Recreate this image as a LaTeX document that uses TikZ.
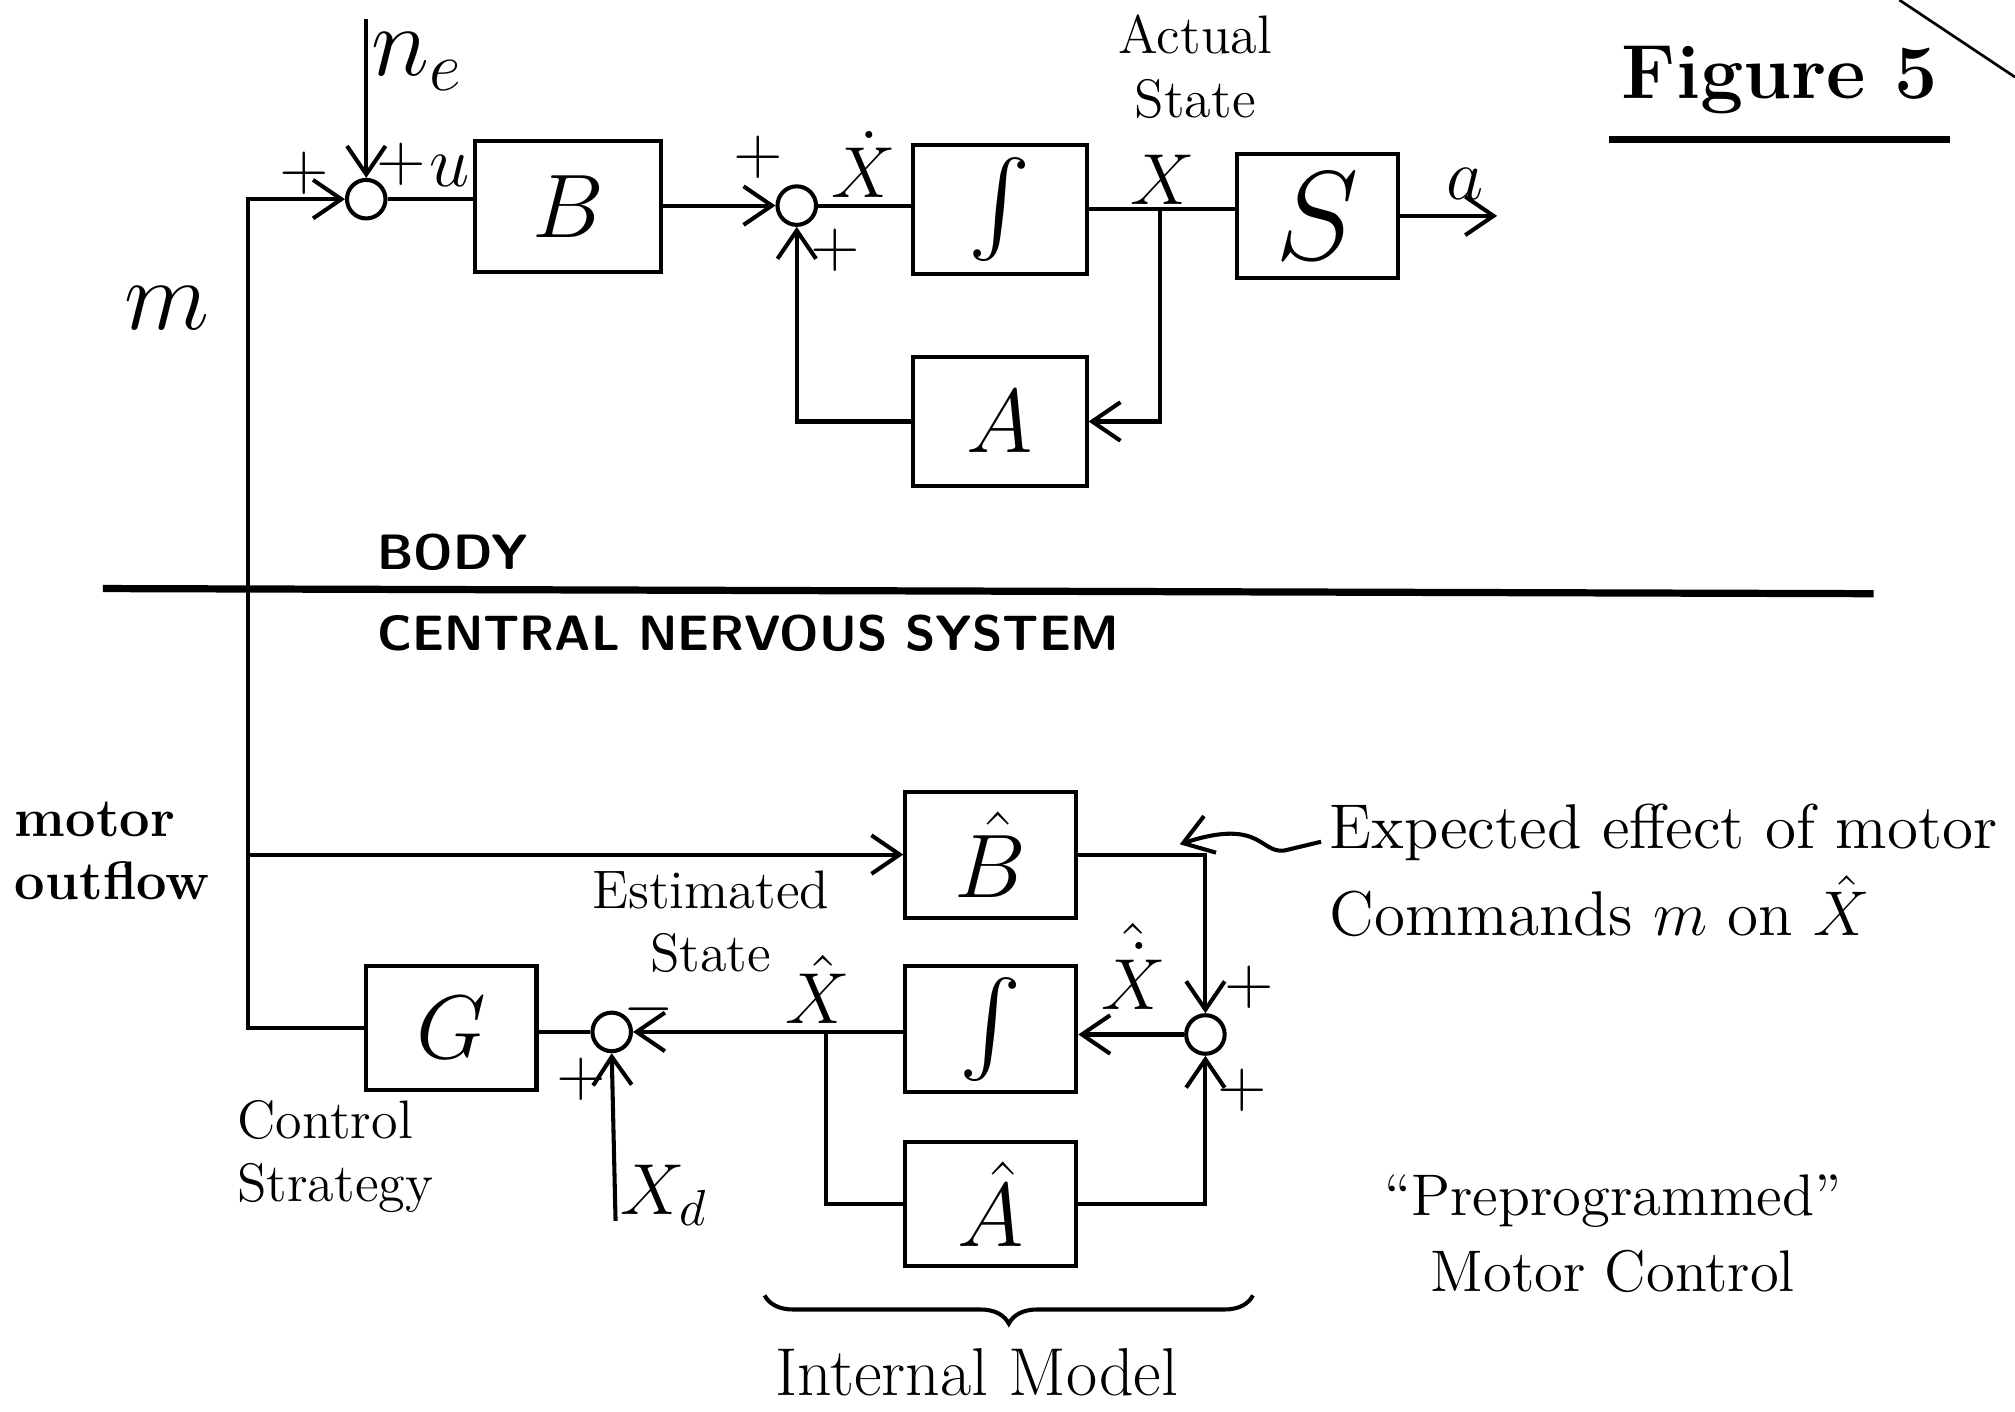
\RequirePackage{fix-cm}
\documentclass[tikz,border=0pt]{standalone}
\usepackage{fontspec,exscale}
\usetikzlibrary{arrows.meta,positioning,decorations.pathreplacing}

\begin{document}
\begin{tikzpicture}[x=1cm,y=-1cm,line width=.9pt,
  >={Straight Barb[length=2.2mm,width=3mm]},
  blk/.style={draw,minimum width=1.35cm,minimum height=1cm,inner sep=0pt,font=\fontsize{20}{24}\selectfont},
  sumj/.style={draw,circle,minimum size=.3cm,inner sep=0pt},
  sgn/.style={font=\Large,inner sep=1pt},
  sig/.style={font=\fontsize{16}{19}\selectfont,inner sep=1pt},
  note/.style={font=\large,align=left,inner sep=0pt},
  caps/.style={font=\fontsize{11}{13}\selectfont\bfseries\sffamily,anchor=west,inner sep=0pt}]
\useasboundingbox (0,0) rectangle (15.68,10.98);
\node[sumj] (sumU) at (2.85,1.55) {};
\node[blk,minimum width=1.45cm,minimum height=1.02cm] (blkB) at (4.42,1.61) {$B$};
\node[sumj] (sumX) at (6.20,1.60) {};
\node[blk] (blkI) at (7.78,1.63) {$\int$};
\node[blk,minimum width=1.25cm,minimum height=.96cm,font=\fontsize{28}{32}\selectfont] (blkS) at (10.25,1.68) {$S$};
\node[blk,minimum height=1.01cm] (blkA) at (7.78,3.28) {$A$};
\node[blk,minimum width=1.33cm,minimum height=.98cm] (blkBh) at (7.71,6.65) {$\hat{B}$};
\node[blk,minimum width=1.33cm,minimum height=.98cm] (blkIh) at (7.71,8.01) {$\int$};
\node[blk,minimum width=1.33cm,minimum height=.97cm] (blkAh) at (7.71,9.37) {$\hat{A}$};
\node[blk,minimum width=1.33cm,minimum height=.96cm] (blkG) at (3.51,8.00) {$G$};
\node[sumj] (sumE) at (4.76,8.03) {};
\node[sumj] (sumXh) at (9.38,8.05) {};
\coordinate (ne) at (2.85,0.15);
\coordinate (mtop) at (1.93,1.55);
\coordinate (jX) at (9.03,1.63);
\coordinate (aout) at (11.65,1.68);
\coordinate (jXh) at (6.43,8.03);
\coordinate (xd) at (4.79,9.50);
\coordinate (tail) at (10.28,6.55);
\coordinate (curl) at (9.18,6.57);
\coordinate (imL) at (5.95,10.08);
\coordinate (imR) at (9.75,10.08);
\coordinate (divL) at (0.80,4.58);
\coordinate (divR) at (14.58,4.62);
\coordinate (pgA) at (14.78,0);
\coordinate (pgB) at (15.68,0.60);
\draw[->] (ne) -- (sumU.north);
\draw[->] (blkG.west) -| (mtop) -- (sumU.west);
\draw (sumU.east) -- (sumU.east -| blkB.west);
\draw[->] (blkB.east |- sumX) -- (sumX.west);
\draw (sumX.east) -- (sumX.east -| blkI.west);
\draw (blkI.east) -- (blkI.east -| blkS.west);
\draw[->] (jX) |- (blkA.east);
\draw[->] (blkA.west) -| (sumX.south);
\draw[->] (blkS.east) -- (aout);
\draw[->] (blkBh.west -| mtop) -- (blkBh.west);
\draw[->] (blkBh.east) -| (sumXh.north);
\draw[->] (blkAh.east) -| (sumXh.south);
\draw[->] (sumXh.west) -- (sumXh.west -| blkIh.east);
\draw[->] (blkIh.west |- sumE) -- (sumE.east);
\draw (sumE.west) -- (sumE.west -| blkG.east);
\draw (jXh) |- (blkAh.west);
\draw[->] (xd) -- (sumE.south);
\draw[->] (tail) -- ++(-0.25,0.06) .. controls (9.80,6.68) and (9.85,6.35) .. (curl);
\draw[decorate,decoration={brace,mirror,amplitude=.22cm}] (imL) -- (imR);
\draw[line width=1.6pt] (divL) -- (divR);
\draw[line width=.6pt] (pgA) -- (pgB);
\node[font=\fontsize{22}{26}\selectfont,inner sep=1pt] (lne) at (3.25,0.48) {$n_e$};
\node[sgn] (pU1) at (2.37,1.35) {$+$};
\node[sgn] (pU2) at (3.12,1.28) {$+$};
\node[sig] (lu) at (3.50,1.33) {$u$};
\node[sgn] (pX1) at (5.90,1.22) {$+$};
\node[sig] (lxdot) at (6.72,1.28) {$\dot{X}$};
\node[sgn] (pX2) at (6.50,1.95) {$+$};
\node[sig] (lx) at (9.05,1.40) {$X$};
\node[sig] (la) at (11.40,1.43) {$a$};
\node[note,align=center] (actual) at (9.30,0.52) {Actual\\State};
\node[font=\fontsize{17}{20}\selectfont\bfseries,inner xsep=.08cm] (fig) at (13.85,0.62) {Figure 5};
\draw[line width=1.4pt] ([yshift=-2pt]fig.south west) -- ([yshift=-2pt]fig.south east);
\node[font=\fontsize{22}{26}\selectfont] (lm) at (1.30,2.40) {$m$};
\node[caps] (body) at (2.92,4.30) {BODY};
\node[caps] (cns) at (2.92,4.93) {CENTRAL NERVOUS SYSTEM};
\node[note,font=\large\bfseries,anchor=west] (motor) at (0.10,6.62) {motor\\outflow};
\node[note,align=center] (est) at (5.53,7.17) {Estimated\\State};
\node[sig] (lxh) at (6.36,7.70) {$\hat{X}$};
\node[sig] (lxhdot) at (8.82,7.52) {$\hat{\dot{X}}$};
\node[sgn] (pH1) at (9.72,7.68) {$+$};
\node[sgn] (pH2) at (9.67,8.48) {$+$};
\node[sgn] (mE) at (5.05,7.85) {$-$};
\node[sgn] (pE) at (4.52,8.40) {$+$};
\node[sig] (lxdes) at (5.17,9.30) {$X_d$};
\node[note,anchor=west] (ctrl) at (1.83,9.00) {Control\\Strategy};
\node[font=\fontsize{15}{18}\selectfont] (intm) at (7.60,10.68) {Internal Model};
\node[note,align=center,font=\fontsize{13}{17}\selectfont] (prog) at (12.55,9.60) {``Preprogrammed''\\Motor Control};
\node[note,anchor=west,font=\fontsize{14}{17}\selectfont] (expect) at (10.33,6.48) {Expected effect of motor};
\node[note,anchor=west,font=\fontsize{14}{17}\selectfont] (cmd) at (10.33,7.05) {Commands $m$ on $\hat{X}$};
\end{tikzpicture}
\end{document}
